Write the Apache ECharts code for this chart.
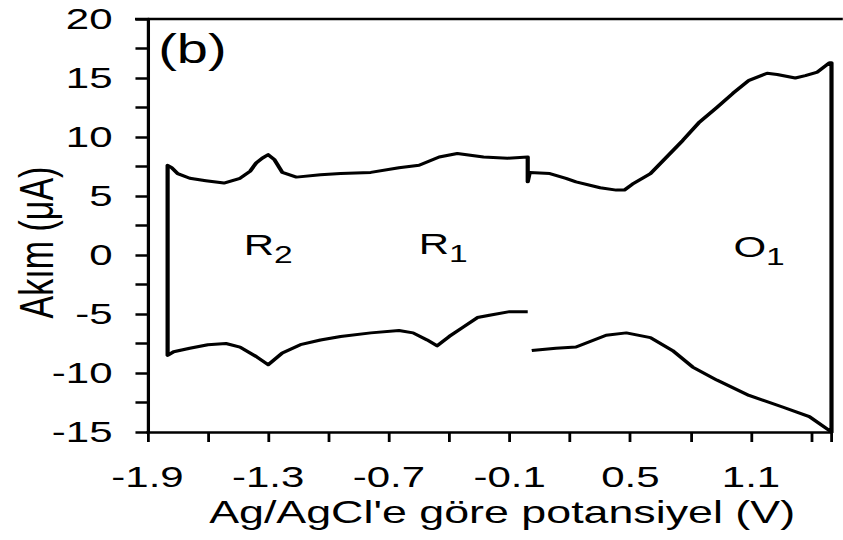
<!DOCTYPE html>
<html>
<head>
<meta charset="utf-8">
<script src="https://cdn.jsdelivr.net/npm/echarts@6/dist/echarts.min.js"></script>
<style>
html,body{margin:0;padding:0;background:#fff;overflow:hidden;width:843px;height:540px;}
#c{position:absolute;left:0;top:0;height:540px;transform-origin:0 0;}
</style>
</head>
<body>
<div id="c"></div>
<script>
// ---------- data ----------
const X_MIN = -1.9;          // first tick of potential axis (V)
const X_MAX = 1.5;           // end of potential axis (V)
const Y_MIN = -15, Y_MAX = 20;
const xTickLabels = ['-1.9', '-1.3', '-0.7', '-0.1', '0.5', '1.1'];
const yTickLabels = ['-15', '-10', '-5', '0', '5', '10', '15', '20'];

// Forward (upper) branch, -1.8 V -> 1.5 V
const forwardV = [-1.80, -1.80, -1.78, -1.75, -1.69, -1.61, -1.52, -1.44, -1.39, -1.36, -1.33, -1.30, -1.27, -1.23, -1.16, -1.04, -0.94, -0.79, -0.65, -0.55, -0.45, -0.36, -0.23, -0.11, -0.01, -0.01, 0.00, 0.10, 0.18, 0.23, 0.35, 0.43, 0.47, 0.51, 0.60, 0.68, 0.76, 0.84, 0.93, 1.01, 1.09, 1.18, 1.23, 1.32, 1.37, 1.43, 1.49, 1.50];
const forwardI = [-8.5, 7.6, 7.4, 6.9, 6.5, 6.3, 6.1, 6.5, 7.1, 7.8, 8.2, 8.5, 8.1, 7.0, 6.6, 6.8, 6.9, 7.0, 7.4, 7.6, 8.3, 8.6, 8.3, 8.2, 8.3, 6.2, 7.0, 6.9, 6.5, 6.2, 5.7, 5.5, 5.5, 6.0, 6.9, 8.3, 9.7, 11.2, 12.5, 13.7, 14.8, 15.4, 15.3, 15.0, 15.2, 15.5, 16.3, 16.3];

// Reverse (lower) branch, part A: 1.5 V -> 0.0 V
const reverseAV = [1.50, 1.39, 1.26, 1.09, 0.93, 0.81, 0.71, 0.60, 0.48, 0.38, 0.23, 0.13, 0.01];
const reverseAI = [-15.0, -13.7, -12.9, -11.9, -10.6, -9.5, -8.1, -7.0, -6.6, -6.8, -7.8, -7.9, -8.1];

// Reverse (lower) branch, part B after the gap: 0.0 V -> -1.8 V
const reverseBV = [-0.01, -0.10, -0.20, -0.26, -0.33, -0.40, -0.46, -0.51, -0.58, -0.65, -0.79, -0.94, -1.04, -1.14, -1.23, -1.30, -1.36, -1.44, -1.51, -1.60, -1.69, -1.77, -1.80];
const reverseBI = [-4.8, -4.8, -5.1, -5.3, -6.1, -6.9, -7.7, -7.2, -6.6, -6.4, -6.6, -6.9, -7.2, -7.6, -8.3, -9.3, -8.6, -7.8, -7.5, -7.6, -7.9, -8.2, -8.5];

// Peak annotations
const annMain = ['R', 'R', 'O'];
const annSub = ['2', '1', '1'];
const annV = [-1.30, -0.43, 1.14];
const annI = [0.3, 0.4, 0.1];

// ---------- rendering ----------
const S = 1.4;                 // horizontal stretch of the reference image
const W = 843 / S, H = 540;
const dom = document.getElementById('c');
dom.style.width = W + 'px';
dom.style.transform = 'scaleX(' + S + ')';
const chart = echarts.init(dom, null, {renderer: 'svg', width: W, height: H});

const toAxis = v => +(v - X_MIN).toFixed(4);
const lineData = [];
reverseBV.forEach((v, k) => lineData.push([toAxis(v), reverseBI[k]]));
forwardV.forEach((v, k) => lineData.push([toAxis(v), forwardI[k]]));
reverseAV.forEach((v, k) => lineData.push([toAxis(v), reverseAI[k]]));

const annData = annV.map((v, k) => [toAxis(v), annI[k], annMain[k], annSub[k]]);

const FONT = '"Liberation Sans", Arial, Helvetica, sans-serif';
const gridLeft = 147.5 / S, gridRight = W - 831.5 / S;

chart.setOption({
  animation: false,
  backgroundColor: '#fff',
  textStyle: {fontFamily: FONT, color: '#000'},
  grid: {left: gridLeft, right: gridRight, top: 19, bottom: H - 432, containLabel: false, outerBoundsMode: 'none'},
  xAxis: {
    type: 'value', min: 0, max: toAxis(X_MAX), interval: 0.3,
    name: "Ag/AgCl'e göre potansiyel (V)", nameLocation: 'middle', nameGap: 64, nameMoveOverlap: false,
    nameTextStyle: {fontFamily: FONT, fontSize: 32, color: '#000', padding: [0, 0, 0, 18]},
    axisLine: {show: true, onZero: false, lineStyle: {color: '#000', width: 2.5}},
    axisTick: {show: true, inside: false, length: 10, lineStyle: {color: '#000', width: 2}},
    axisLabel: {
      margin: 30, fontFamily: FONT, fontSize: 30, color: '#000',
      formatter: function (val) {
        const s = (val + X_MIN).toFixed(1);
        return xTickLabels.indexOf(s) >= 0 ? s : '';
      }
    },
    splitLine: {show: false}
  },
  yAxis: {
    type: 'value', min: Y_MIN, max: Y_MAX, interval: 2.5,
    name: 'Akım (μA)', nameLocation: 'middle', nameGap: 62, nameMoveOverlap: false,
    nameTextStyle: {fontFamily: FONT, fontSize: 34, color: '#000', padding: [0, 34, 0, 0]},
    axisLine: {show: true, onZero: false, lineStyle: {color: '#000', width: 2.3}},
    axisTick: {show: true, inside: false, length: 8.6, lineStyle: {color: '#000', width: 2.5}},
    axisLabel: {
      margin: 25, fontFamily: FONT, fontSize: 30, color: '#000',
      formatter: function (val) {
        const s = String(Math.round(val * 10) / 10);
        return yTickLabels.indexOf(s) >= 0 ? s : '';
      }
    },
    splitLine: {show: false}
  },
  title: {
    text: '(b)', left: 108, top: 24,
    textStyle: {fontFamily: FONT, fontSize: 40, fontWeight: 'normal', color: '#000'}
  },
  graphic: [{
    type: 'line', z: 10,
    shape: {x1: 135 / S, y1: 19, x2: W, y2: 19},
    style: {stroke: '#000', lineWidth: 2.5}
  }],
  series: [{
    type: 'line',
    data: lineData,
    showSymbol: false,
    clip: false,
    lineStyle: {color: '#000', width: 3, join: 'round'},
    itemStyle: {color: '#000'}
  }, {
    type: 'scatter',
    data: annData,
    symbolSize: 0,
    itemStyle: {color: '#000', opacity: 1},
    label: {
      show: true, position: 'inside', color: '#000', textBorderWidth: 0, opacity: 1,
      formatter: p => '{m|' + p.data[2] + '}{s|' + p.data[3] + '}',
      rich: {
        m: {fontFamily: FONT, fontSize: 30, lineHeight: 30, padding: [0, 0, 7, 0], verticalAlign: 'bottom', color: '#000', textBorderWidth: 0},
        s: {fontFamily: FONT, fontSize: 24, lineHeight: 24, verticalAlign: 'bottom', color: '#000', textBorderWidth: 0}
      }
    }
  }]
});
</script>
</body>
</html>
